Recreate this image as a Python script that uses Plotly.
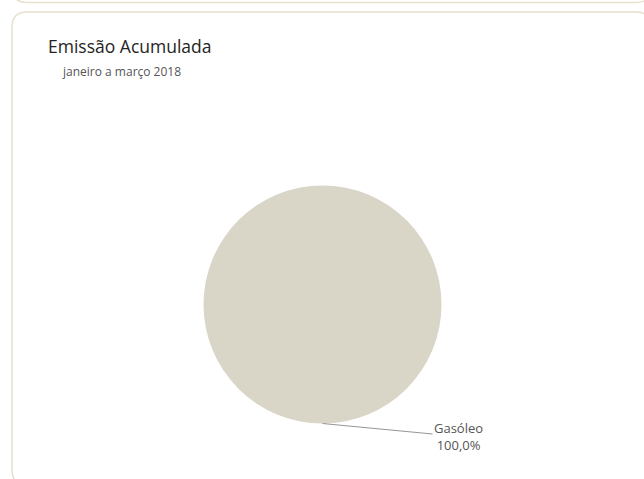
import plotly.graph_objects as go
import re

# Data
labels = ["Gasóleo"]
values = [100.0]
colors = ["#D9D5C7"]
title_text = "Emissão Acumulada"
subtitle_text = "janeiro a março 2018"

W, H = 644, 479

def px(x):
    return x / W

def py(y):
    return 1 - y / H

# pie placement (pixels)
cx, cy, r = 322.5, 304.5, 119.0
dom_x = [px(cx - r), px(cx + r)]
dom_y = [py(cy + r), py(cy - r)]

fig = go.Figure()
fig.add_trace(go.Pie(
    labels=labels, values=values,
    marker=dict(colors=colors, line=dict(width=0)),
    textinfo="none", hoverinfo="label+percent",
    sort=False, showlegend=False,
    domain=dict(x=dom_x, y=dom_y),
))

# label with leader line, anchored at the bottom of the pie
pct = values[0] / sum(values) * 100
label_text = f"{labels[0]}<br>{pct:.1f}%".replace(".", ",")
tip_x = (dom_x[0] + dom_x[1]) / 2
tip_y = dom_y[0]

annotations = [
    dict(x=tip_x, y=tip_y, xref="paper", yref="paper",
         text=label_text, showarrow=True, arrowhead=0, arrowwidth=1,
         arrowcolor="#959595", ax=136, ay=13, align="center",
         font=dict(family="Open Sans, Noto Sans", size=13, color="#555555")),
    dict(x=px(46), y=py(46), xref="paper", yref="paper", xanchor="left", yanchor="middle",
         text=title_text, showarrow=False,
         font=dict(family="Open Sans, Noto Sans", size=17.5, color="#252423")),
    dict(x=px(60), y=py(71), xref="paper", yref="paper", xanchor="left", yanchor="middle",
         text=subtitle_text, showarrow=False,
         font=dict(family="Open Sans, Noto Sans", size=12, color="#555555")),
]

def rounded_rect(x0, y0, x1, y1, rad):
    return (f"M {x0+rad},{y0} L {x1-rad},{y0} Q {x1},{y0} {x1},{y0+rad} "
            f"L {x1},{y1-rad} Q {x1},{y1} {x1-rad},{y1} L {x0+rad},{y1} "
            f"Q {x0},{y1} {x0},{y1-rad} L {x0},{y0+rad} Q {x0},{y0} {x0+rad},{y0} Z")

def to_paper_path(x0, y0, x1, y1, rad):
    p = rounded_rect(x0, y0, x1, y1, rad)
    def conv(m):
        a, b = float(m.group(1)), float(m.group(2))
        return f"{px(a):.5f},{py(b):.5f}"
    return re.sub(r"(-?[\d.]+),(-?[\d.]+)", conv, p)

border = "#E6E1CC"
shapes = [
    dict(type="path", xref="paper", yref="paper",
         path=to_paper_path(12, -200, 651, 2.5, 15),
         line=dict(color=border, width=1.5), fillcolor="rgba(0,0,0,0)", layer="below"),
    dict(type="path", xref="paper", yref="paper",
         path=to_paper_path(12, 12, 651, 485, 15),
         line=dict(color=border, width=1.5), fillcolor="rgba(0,0,0,0)", layer="below"),
]

fig.update_layout(
    width=W, height=H,
    margin=dict(l=0, r=0, t=0, b=0),
    paper_bgcolor="white", plot_bgcolor="white",
    annotations=annotations, shapes=shapes,
    showlegend=False,
)

fig.write_html("out.html", config={"displayModeBar": False},
               post_script="document.body.style.margin='0px';document.body.style.overflow='hidden';")
